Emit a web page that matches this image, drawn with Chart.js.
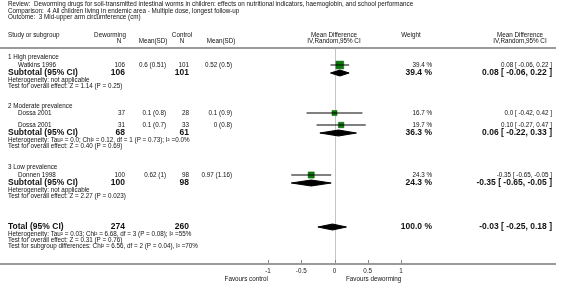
<!DOCTYPE html>
<html>
<head>
<meta charset="utf-8">
<script src="https://cdn.jsdelivr.net/npm/chart.js@4"></script>
<style>
  html, body { margin: 0; padding: 0; background: #fff; }
  #wrap { width: 566px; height: 288px; position: relative; }
</style>
</head>
<body>
<div id="wrap"><canvas id="forest"></canvas></div>
<script>
const reviewTitle = "Review:  Deworming drugs for soil-transmitted intestinal worms in children: effects on nutritional indicators, haemoglobin, and school performance";
const comparisonTitle = "Comparison:  4 All children living in endemic area - Multiple dose, longest follow-up";
const outcomeTitle = "Outcome:  3 Mid-upper arm circumference (cm)";

const groups = ["1 High prevalence", "2 Moderate prevalence", "3 Low prevalence"];

const studies = ["Watkins 1996", "Dossa 2001", "Dossa 2001", "Donnen 1998"];
const dewN = [106, 37, 31, 100];
const dewMeanSD = ["0.6 (0.51)", "0.1 (0.8)", "0.1 (0.7)", "0.62 (1)"];
const ctlN = [101, 28, 33, 98];
const ctlMeanSD = ["0.52 (0.5)", "0.1 (0.9)", "0 (0.8)", "0.97 (1.16)"];
const studyMD = [0.08, 0.0, 0.10, -0.35];
const studyLo = [-0.06, -0.42, -0.27, -0.65];
const studyHi = [0.22, 0.42, 0.47, -0.05];
const studyWeight = [39.4, 16.7, 19.7, 24.3];
const studyCI = ["0.08 [ -0.06, 0.22 ]", "0.0 [ -0.42, 0.42 ]", "0.10 [ -0.27, 0.47 ]", "-0.35 [ -0.65, -0.05 ]"];

const subDewN = [106, 68, 100];
const subCtlN = [101, 61, 98];
const subMD = [0.08, 0.06, -0.35];
const subLo = [-0.06, -0.22, -0.65];
const subHi = [0.22, 0.33, -0.05];
const subWeight = ["39.4 %", "36.3 %", "24.3 %"];
const subCI = ["0.08 [ -0.06, 0.22 ]", "0.06 [ -0.22, 0.33 ]", "-0.35 [ -0.65, -0.05 ]"];
const subHet = [
  "Heterogeneity: not applicable",
  "Heterogeneity: Tau² = 0.0; Chi² = 0.12, df = 1 (P = 0.73); I² =0.0%",
  "Heterogeneity: not applicable"
];
const subTest = [
  "Test for overall effect: Z = 1.14 (P = 0.25)",
  "Test for overall effect: Z = 0.40 (P = 0.69)",
  "Test for overall effect: Z = 2.27 (P = 0.023)"
];

const totalDewN = 274;
const totalCtlN = 260;
const totalMD = -0.03;
const totalLo = -0.25;
const totalHi = 0.18;
const totalWeight = "100.0 %";
const totalCI = "-0.03 [ -0.25, 0.18 ]";
const totalNotes = [
  "Heterogeneity: Tau² = 0.03; Chi² = 6.68, df = 3 (P = 0.08); I² =55%",
  "Test for overall effect: Z = 0.31 (P = 0.76)",
  "Test for subgroup differences: Chi² = 6.56, df = 2 (P = 0.04), I² =70%"
];

const tickLabels = ["-1", "-0.5", "0", "0.5", "1"];

// layout: row positions (y axis runs in pixels from the top)
const groupRowY = [57, 106, 167];
const studyRowY = [65, 113, 125, 175];
const subRowY = [73, 133, 183];
const totalRowY = 227;

const FONT = '"Liberation Sans", Arial, sans-serif';
const SMALL = 6.3;
const BIG = 8.5;

const ciLines = studyMD.map((m, i) => ({
  data: [{ x: studyLo[i], y: studyRowY[i] }, { x: studyHi[i], y: studyRowY[i] }],
  showLine: true,
  borderColor: "#000",
  borderWidth: 1,
  pointRadius: 0,
}));

const squares = {
  data: studyMD.map((m, i) => ({ x: m, y: studyRowY[i] })),
  pointStyle: "rect",
  pointRadius: studyWeight.map((w) => 0.88 * Math.sqrt(w)),
  backgroundColor: "#0b7a0b",
  borderColor: "#075a07",
  borderWidth: 0.5,
};

const diamond = (m, lo, hi, y) => ({
  data: [{ x: lo, y: y }, { x: m, y: y - 3 }, { x: hi, y: y }, { x: m, y: y + 3 }, { x: lo, y: y }],
  showLine: true,
  fill: "shape",
  tension: 0,
  backgroundColor: "#000",
  borderColor: "#000",
  borderWidth: 1,
  pointRadius: 0,
});

const diamonds = subMD.map((m, i) => diamond(m, subLo[i], subHi[i], subRowY[i]));
diamonds.push(diamond(totalMD, totalLo, totalHi, totalRowY));

const textPlugin = {
  id: "forestText",
  beforeDatasetsDraw(chart) {
    const ctx = chart.ctx;
    const xs = chart.scales.x;
    const ys = chart.scales.y;
    const Y = (v) => ys.getPixelForValue(v);

    const txt = (s, x, y, align, size, bold) => {
      ctx.font = (bold ? "bold " : "") + size + "px " + FONT;
      ctx.textAlign = align || "left";
      ctx.textBaseline = "middle";
      ctx.fillStyle = "#111";
      ctx.fillText(s, x, y);
    };

    ctx.save();
    txt(reviewTitle, 8, 4, "left", SMALL);
    txt(comparisonTitle, 8, 11, "left", SMALL);
    txt(outcomeTitle, 8, 17, "left", SMALL);

    txt("Study or subgroup", 8, 35, "left", SMALL);
    txt("Deworming", 110, 35, "center", SMALL);
    txt("Control", 182, 35, "center", SMALL);
    txt("Mean Difference", 334, 35, "center", SMALL);
    txt("Weight", 411, 35, "center", SMALL);
    txt("Mean Difference", 520, 35, "center", SMALL);
    txt("N", 119, 41, "center", SMALL);
    txt("Mean(SD)", 153, 41, "center", SMALL);
    txt("N", 182, 41, "center", SMALL);
    txt("Mean(SD)", 221, 41, "center", SMALL);
    txt("IV,Random,95% CI", 334, 41, "center", SMALL);
    txt("IV,Random,95% CI", 520, 41, "center", SMALL);

    groups.forEach((g, i) => txt(g, 8, Y(groupRowY[i]), "left", SMALL));

    studies.forEach((s, i) => {
      const y = Y(studyRowY[i]);
      txt(s, 18, y, "left", SMALL);
      txt(String(dewN[i]), 125, y, "right", SMALL);
      txt(dewMeanSD[i], 166, y, "right", SMALL);
      txt(String(ctlN[i]), 189, y, "right", SMALL);
      txt(ctlMeanSD[i], 232, y, "right", SMALL);
      txt(studyWeight[i].toFixed(1) + " %", 432, y, "right", SMALL);
      txt(studyCI[i], 552, y, "right", SMALL);
    });

    subRowY.forEach((r, i) => {
      const y = Y(r);
      txt("Subtotal (95% CI)", 8, y, "left", BIG, true);
      txt(String(subDewN[i]), 125, y, "right", BIG, true);
      txt(String(subCtlN[i]), 189, y, "right", BIG, true);
      txt(subWeight[i], 432, y, "right", BIG, true);
      txt(subCI[i], 552, y, "right", BIG, true);
      txt(subHet[i], 8, y + 7, "left", SMALL);
      txt(subTest[i], 8, y + 13, "left", SMALL);
    });

    const ty = Y(totalRowY);
    txt("Total (95% CI)", 8, ty, "left", BIG, true);
    txt(String(totalDewN), 125, ty, "right", BIG, true);
    txt(String(totalCtlN), 189, ty, "right", BIG, true);
    txt(totalWeight, 432, ty, "right", BIG, true);
    txt(totalCI, 552, ty, "right", BIG, true);
    totalNotes.forEach((n, i) => txt(n, 8, ty + 7 + i * 6, "left", SMALL));

    // rules
    ctx.fillStyle = "#9a9a9a";
    ctx.fillRect(0, 47, 556, 2);
    ctx.fillRect(0, 263, 556, 2);

    // zero line
    const x0 = Math.round(xs.getPixelForValue(0)) + 0.5;
    ctx.strokeStyle = "#c4c4c4";
    ctx.lineWidth = 1;
    ctx.beginPath();
    ctx.moveTo(x0, 49);
    ctx.lineTo(x0, 263);
    ctx.stroke();

    // tick marks
    ctx.strokeStyle = "#888";
    xs.ticks.forEach((t) => {
      const px = Math.round(xs.getPixelForValue(t.value)) + 0.5;
      ctx.beginPath();
      ctx.moveTo(px, 260);
      ctx.lineTo(px, 263);
      ctx.stroke();
    });

    txt("Favours control", 268, 279, "right", SMALL);
    txt("Favours deworming", 346, 279, "left", SMALL);
    ctx.restore();
  },
};

new Chart(document.getElementById("forest"), {
  type: "scatter",
  data: { datasets: [...ciLines, squares, ...diamonds] },
  options: {
    responsive: true,
    maintainAspectRatio: false,
    devicePixelRatio: 1,
    animation: false,
    layout: { autoPadding: false, padding: { left: 268, right: 165, top: 0, bottom: 0 } },
    plugins: { legend: { display: false }, tooltip: { enabled: false } },
    scales: {
      x: {
        type: "linear",
        min: -1,
        max: 1,
        afterFit: (s) => { s.height = 24; },
        grid: { display: false, drawTicks: false },
        border: { display: false },
        ticks: {
          stepSize: 0.5,
          autoSkip: false,
          maxRotation: 0,
          padding: 3,
          color: "#222",
          font: { size: SMALL, family: FONT },
          callback: (v, i) => tickLabels[i],
        },
      },
      y: { type: "linear", min: 0, max: 264, reverse: true, display: false },
    },
  },
  plugins: [textPlugin],
});
</script>
</body>
</html>
